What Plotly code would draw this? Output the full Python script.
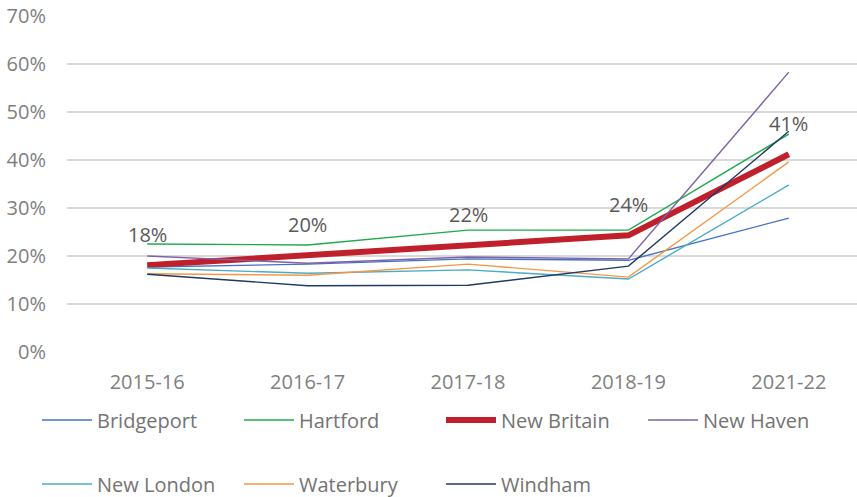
import plotly.graph_objects as go

years = ["2015-16", "2016-17", "2017-18", "2018-19", "2021-22"]

bridgeport = [0.177, 0.183, 0.194, 0.191, 0.279]
hartford = [0.225, 0.223, 0.254, 0.254, 0.454]
new_britain = [0.181, 0.201, 0.222, 0.243, 0.412]
new_haven = [0.200, 0.185, 0.198, 0.194, 0.583]
new_london = [0.175, 0.164, 0.171, 0.152, 0.348]
waterbury = [0.163, 0.160, 0.183, 0.156, 0.396]
windham = [0.162, 0.138, 0.139, 0.179, 0.460]

series = [
    ("Bridgeport", bridgeport, "#4472C4", 1.4, "legend"),
    ("Hartford", hartford, "#1FAA4A", 1.4, "legend"),
    ("New Britain", new_britain, "#C0202B", 6, "legend"),
    ("New Haven", new_haven, "#7E62A6", 1.4, "legend"),
    ("New London", new_london, "#4BACC6", 1.4, "legend2"),
    ("Waterbury", waterbury, "#F79646", 1.4, "legend2"),
    ("Windham", windham, "#203864", 1.4, "legend2"),
]

fig = go.Figure()
for name, vals, color, w, lg in series:
    fig.add_trace(go.Scatter(
        x=years, y=vals, name=name, mode="lines",
        line=dict(color=color, width=w),
        legend=lg,
    ))

for yr, v in zip(years, new_britain):
    fig.add_annotation(
        x=yr, y=v, text=f"{round(v * 100)}%", showarrow=False,
        yshift=31, font=dict(family="Open Sans", size=20, color="#595959"),
    )

legend_common = dict(
    orientation="h", yanchor="middle", xanchor="left",
    xref="paper", yref="paper",
    font=dict(family="Open Sans", size=20, color="#737373"),
    entrywidth=137, entrywidthmode="pixels", itemwidth=50,
    bgcolor="rgba(0,0,0,0)", traceorder="normal",
)

fig.update_layout(
    width=857, height=497, autosize=False,
    margin=dict(l=67, r=0, t=16, b=145, autoexpand=False),
    paper_bgcolor="white", plot_bgcolor="white",
    font=dict(family="Open Sans", size=20, color="#808080"),
    xaxis=dict(
        type="category", range=[-0.5, 4.425],
        showgrid=False, zeroline=False, showline=False, ticks="",
        ticklabelstandoff=16, automargin=False,
        tickfont=dict(family="Open Sans", size=20, color="#808080"),
    ),
    yaxis=dict(
        range=[0, 0.7], dtick=0.1, tickformat=".0%",
        showgrid=True, gridcolor="#D9D9D9", gridwidth=1.5,
        zeroline=False, showline=False, ticks="",
        ticklabelstandoff=20, automargin=False,
        tickfont=dict(family="Open Sans", size=20, color="#808080"),
    ),
    legend=dict(x=(37 - 67) / 790, y=(352 - 420) / 336, **legend_common),
    legend2=dict(x=(37 - 67) / 790, y=(352 - 484) / 336, **legend_common),
    showlegend=True,
)

fig.write_html(
    "out.html",
    config={"displayModeBar": False},
    post_script="document.body.style.margin='0';document.body.style.overflow='hidden';",
)
